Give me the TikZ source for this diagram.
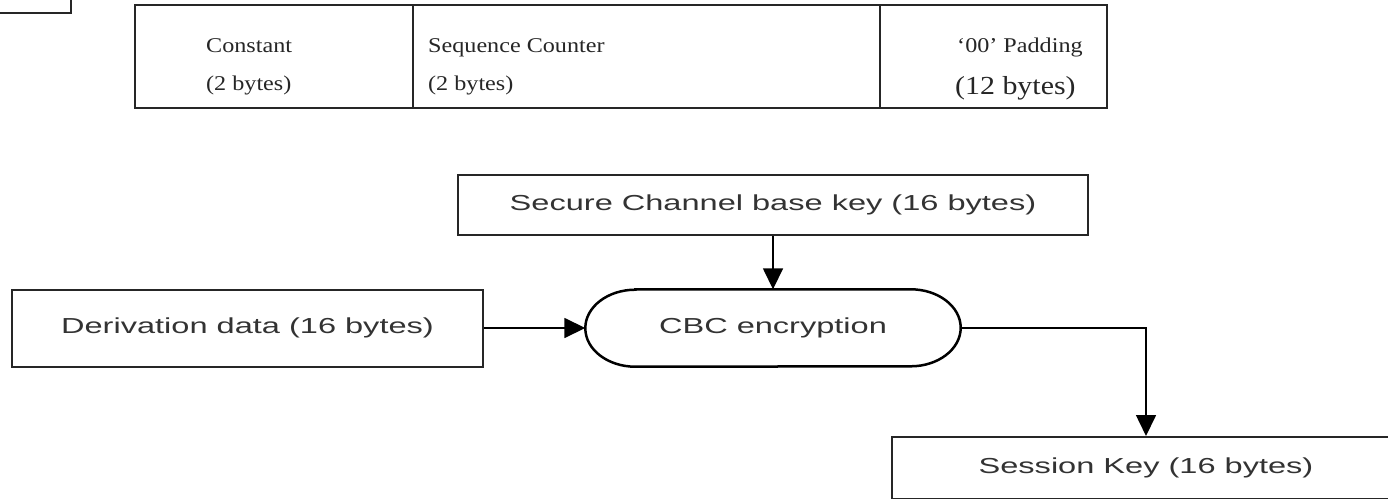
\documentclass[tikz,border=0pt]{standalone}
\usepackage{fontspec}
\usepackage{graphicx}
\usetikzlibrary{arrows.meta}
\newfontfamily\tserif{Liberation Serif}
\newfontfamily\tsans{Liberation Sans}
\newcommand\wide[1]{\scalebox{1.5}[1]{#1}}
\newcommand\swide[1]{\scalebox{1.15}[1]{#1}}
\tikzset{
  box/.style={draw=black!85, line width=2pt, rectangle, inner sep=0pt, fill=white},
  sanstext/.style={font=\tsans\fontsize{21.7}{26}\selectfont, text=black!80},
  smallserif/.style={font=\tserif\fontsize{21}{25}\selectfont, text=black!85, anchor=base west, inner sep=0pt},
  bigserif/.style={font=\tserif\fontsize{26}{31}\selectfont, text=black!85, anchor=base west, inner sep=0pt},
  conn/.style={draw=black, line width=1.6pt, -{Triangle[length=21pt,width=20pt]}},
}
\begin{document}
\begin{tikzpicture}[x=1pt,y=-1pt]
\useasboundingbox[fill=white] (0,0) rectangle (1388,498);
\clip (0,0) rectangle (1388,498);
% partial box at top-left
\draw[line width=2pt, draw=black!85] (-10,-10) rectangle (71,13);
% top table
\node[box, minimum width=278pt, minimum height=103pt, anchor=north west] (c1) at (134,4) {};
\node[box, minimum width=467pt, minimum height=103pt, anchor=north west] (c2) at (412,4) {};
\node[box, minimum width=227pt, minimum height=103pt, anchor=north west] (c3) at (879,4) {};
\node[smallserif] (t1a) at (206,52) {\swide{Constant}};
\node[smallserif] (t1b) at (206,90) {\swide{(2 bytes)}};
\node[smallserif] (t2a) at (428,52) {\swide{Sequence Counter}};
\node[smallserif] (t2b) at (428,90) {\swide{(2 bytes)}};
\node[smallserif] (t3a) at (957,52) {\swide{‘00’ Padding}};
\node[bigserif] (t3b) at (955,94) {\swide{(12 bytes)}};
% flow
\node[box, minimum width=630pt, minimum height=60pt, sanstext] (sec) at (773,205) {\wide{Secure Channel base key (16 bytes)}};
\node[minimum width=375pt, minimum height=77pt, inner sep=0pt] (cbc) at (773,328) {};
\draw[line width=2.5pt, draw=black]
  ([xshift=50pt]cbc.north west) -- ([xshift=-50pt]cbc.north east)
  arc[start angle=90, end angle=-90, x radius=50pt, y radius=38.5pt]
  -- ([xshift=50pt]cbc.south west)
  arc[start angle=-90, end angle=-270, x radius=50pt, y radius=38.5pt] -- cycle;
\node[sanstext] (cbct) at (cbc.center) {\wide{CBC encryption}};
\node[box, minimum width=471pt, minimum height=77pt, sanstext] (der) at (247.5,328) {\wide{Derivation data (16 bytes)}};
\node[box, minimum width=508pt, minimum height=62pt, sanstext] (sk) at (1146,468) {\wide{Session Key (16 bytes)}};
\draw[conn] (sec.south) -- (cbc.north);
\draw[conn] (der.east) -- (cbc.west);
\draw[conn] (cbc.east) -| (sk.north);
\end{tikzpicture}
\end{document}
